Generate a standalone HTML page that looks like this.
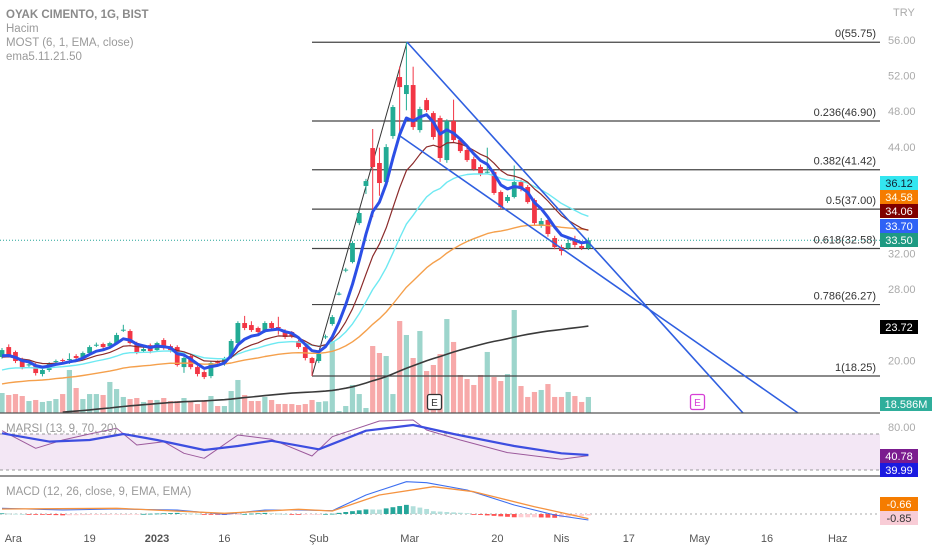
<!DOCTYPE html>
<html><head><meta charset="utf-8">
<style>
html,body{margin:0;padding:0;background:#fff;}
svg{display:block;font-family:"Liberation Sans",sans-serif;}
</style></head>
<body>
<svg id="chart" width="932" height="550" viewBox="0 0 932 550" xmlns="http://www.w3.org/2000/svg">
<rect x="0" y="0" width="932" height="550" fill="#ffffff"/>
<g id="rsi-bg">
<rect x="0" y="434" width="880" height="36" fill="#f3e7f5"/>
<line x1="0" y1="434" x2="880" y2="434" stroke="#9a9a9a" stroke-dasharray="3,3"/>
<line x1="0" y1="470" x2="880" y2="470" stroke="#9a9a9a" stroke-dasharray="3,3"/>
</g>
<line x1="0" y1="514" x2="880" y2="514" stroke="#aaa" stroke-dasharray="2,3"/>
<g id="vol"></g>
<g id="fib"></g>
<g id="candles"></g>
<g id="lines"></g>
<g id="draw"></g>
<g id="ind"></g>
<line x1="0" y1="413" x2="880" y2="413" stroke="#555" stroke-width="1.2"/>
<line x1="0" y1="476" x2="880" y2="476" stroke="#555" stroke-width="1.2"/>
<line x1="0" y1="240.3" x2="880" y2="240.3" stroke="#26a69a" stroke-dasharray="1,2"/>
<g><rect x="427.5" y="394.5" width="14" height="15" rx="2" fill="#fff" stroke="#333" stroke-width="1.3"/><text x="434.5" y="406" font-size="10" text-anchor="middle" fill="#333">E</text></g>
<g><rect x="690.5" y="394.5" width="14" height="15" rx="2" fill="#fff" stroke="#d63fd6" stroke-width="1.3"/><text x="697.5" y="406" font-size="10" text-anchor="middle" fill="#d63fd6">E</text></g>
<g font-size="11.5" fill="#9a9a9a">
<text x="6" y="18" font-weight="bold" fill="#8a8a8a">OYAK CIMENTO, 1G, BIST</text>
<text x="6" y="32">Hacim</text>
<text x="6" y="46">MOST (6, 1, EMA, close)</text>
<text x="6" y="60">ema5.11.21.50</text>
<text x="6" y="432">MARSI (13, 9, 70, 20)</text>
<text x="6" y="495">MACD (12, 26, close, 9, EMA, EMA)</text>
</g>
<g id="axis" font-size="11"></g>
</svg>
<script>
const opens=[20.38,21.50,20.94,20.04,19.48,19.48,18.47,18.92,19.81,20.04,20.12,20.49,20.38,20.83,21.72,21.84,21.61,21.95,23.41,23.30,21.95,21.05,21.72,21.16,22.29,21.61,21.50,19.25,20.49,19.25,18.69,18.24,19.81,19.59,20.38,21.95,24.20,23.97,23.64,23.30,24.20,23.75,23.30,23.19,22.18,21.50,20.27,19.93,22.63,24.09,27.45,30.15,31.05,35.43,39.60,43.86,42.18,40.04,45.21,51.84,49.93,50.94,45.88,49.25,47.79,47.23,42.51,46.89,44.76,43.64,42.62,41.73,41.16,41.16,38.92,37.91,38.36,40.04,39.48,38.02,35.10,35.77,33.75,32.74,32.63,33.64,32.85,32.63];
const closes=[21.16,20.60,19.93,19.25,19.55,18.58,18.92,19.59,19.93,19.93,20.16,20.27,20.83,21.50,21.76,21.50,21.95,22.85,23.45,21.95,20.94,21.28,21.05,21.95,21.39,21.16,19.48,20.27,19.25,18.47,18.13,19.70,19.70,20.27,22.18,24.20,23.64,23.41,23.19,24.20,23.64,23.70,22.63,22.74,21.50,20.27,19.70,20.72,22.70,24.87,27.50,30.20,33.19,36.56,40.15,41.73,39.93,43.97,48.47,50.71,50.94,46.22,48.24,48.13,45.10,42.74,46.89,44.76,43.52,42.51,41.50,40.94,41.20,38.81,37.23,38.36,40.04,39.25,37.79,35.43,35.66,34.20,32.74,32.29,33.19,32.97,32.63,33.50];
const highs=[21.4,21.8,21.1,20.3,19.8,19.7,19.1,19.8,20.1,20.2,20.8,20.7,21.0,21.7,22.0,22.0,22.1,23.1,24.0,23.5,22.1,21.5,21.9,22.1,22.5,21.8,21.7,20.5,20.7,19.4,18.9,19.9,20.0,20.4,22.4,24.4,25.0,24.4,23.8,24.4,24.4,24.9,23.5,23.3,22.3,21.7,20.4,20.9,22.9,25.1,27.7,30.4,33.4,36.8,40.4,46.0,43.9,44.3,48.7,53.0,55.75,53.0,48.5,49.5,48.0,47.5,47.1,49.3,45.0,43.9,42.9,42.0,43.9,41.4,39.1,38.6,41.9,40.3,39.7,38.2,36.0,36.0,34.0,33.0,33.6,34.0,33.2,33.8];
const lows=[20.2,20.4,19.7,19.0,19.2,18.3,18.2,18.7,19.6,19.8,19.6,20.0,20.2,20.6,21.5,21.3,21.4,21.8,23.2,21.8,20.7,20.9,20.8,21.0,21.2,20.9,19.3,18.6,19.0,18.2,17.9,18.0,19.5,19.4,20.2,21.8,23.4,23.2,22.9,23.1,23.4,22.9,22.4,22.5,21.3,20.0,18.25,19.7,22.4,23.9,27.3,29.9,30.9,35.2,38.7,36.1,38.5,39.8,44.9,45.1,48.1,45.9,45.6,47.9,44.8,42.3,42.2,44.5,43.3,42.3,41.3,40.7,40.9,38.6,37.0,37.7,38.2,39.0,37.6,35.2,34.9,33.9,32.5,31.8,32.4,32.7,32.4,32.4];
const volumes=[23.2,20.9,22.0,19.7,13.9,15.1,12.8,13.9,16.2,22.0,49.9,29.0,16.2,22.0,22.0,20.9,36.0,27.8,18.6,16.2,17.4,12.8,15.1,15.1,17.4,13.9,13.9,17.4,13.9,10.4,15.1,19.7,8.1,8.1,25.5,38.3,20.9,13.9,13.9,18.6,15.1,10.4,10.4,10.4,9.3,10.4,15.1,12.8,13.6,83.5,2.3,8.1,32.5,22.0,5.8,77.7,69.6,66.1,22.0,106.7,90.5,63.8,95.1,48.7,55.7,68.4,109.0,82.4,44.1,39.4,32.5,44.1,70.8,41.8,37.1,45.2,119.5,31.3,18.6,24.4,26.7,33.6,18.6,18.6,24.4,19.7,12.8,18.6];
const emaPeriods=[5,11,21,50,200];
const emaSeeds=[20.2,20.2,18.7,17.2,13.6];
const fibRatios=[0,0.236,0.382,0.5,0.618,0.786,1];
const fibHigh=55.75, fibLow=18.25;
const rsiIdx=[0,5,9,13,17,20,24,27,30,35,40,46,49,56,61,63,68,75,83,87];
const rsiVals=[74.6,50.1,61.7,70,77.9,54.7,59.3,43.2,36.2,68.6,62.6,39.4,66.3,88,89.4,75.6,61.7,44.1,34.8,39.99];
const rsiMaIdx=[0,7,13,18,23,30,35,40,47,54,61,67,76,83,87];
const rsiMaVals=[71,59.4,61.7,70,61.7,47.8,53.3,60.6,48.8,74.6,82.5,70,53.3,43.2,40.78];
const macdIdx=[0,9,17,26,33,39,44,49,54,60,63,69,76,82,87];
const macdVals=[0.81,0.57,0.71,0.57,-0.04,0.57,0.57,0.47,2.71,4.61,4.47,3.43,1.29,-0.14,-0.85];
const sigIdx=[0,17,33,44,49,56,64,70,79,87];
const sigVals=[0.71,0.81,0.1,0.67,0.43,2.71,3.9,3.19,1.04,-0.66];
const priceTicks=[56,52,48,44,32,28,20];
const timeLabels=["Ara","19","2023","16","Şub","Mar","20","Nis","17","May","16","Haz"];
const timeBars=[0.4,13,23,33,47,60.5,73.5,83,93,103.5,113.5,124];

const NS="http://www.w3.org/2000/svg";
const xB=i=>2+6.74*i;
const yP=p=>40+(56-p)*8.9;
const yV=v=>413-v/1.16;
const yR=v=>434+(70-v)*0.72;
const yM=v=>514-v*7;
function mk(tag,attrs,parent){const e=document.createElementNS(NS,tag);for(const k in attrs)e.setAttribute(k,attrs[k]);parent.appendChild(e);return e;}
const G=id=>document.getElementById(id);
const UP="#22ab94",DN="#f23645";

// volume
const gv=G('vol');
volumes.forEach((v,i)=>{const up=closes[i]>=opens[i];
 const r=mk('rect',{x:xB(i)-2.6,y:yV(v),width:5.2,height:413-yV(v),fill:up?"#9dd5cc":"#f7a9a9"},gv);
 
 });

// fib
const gf=G('fib');
mk('line',{x1:312,y1:yP(fibLow),x2:407,y2:yP(fibHigh),stroke:"#333","stroke-width":1},gf);
fibRatios.forEach(r=>{const p=fibHigh-(fibHigh-fibLow)*r;const y=yP(p);
 const l=mk('line',{x1:312,y1:y,x2:880,y2:y,stroke:"#444","stroke-width":1.2},gf);
 
 
 const t=mk('text',{x:876,y:y-5,"font-size":11,"text-anchor":"end",fill:"#333"},gf);
 t.textContent=r+"("+p.toFixed(2)+")";
 
 });

// candles
const gc=G('candles');
opens.forEach((o,i)=>{const c=closes[i];const up=c>=o;const col=up?UP:DN;const x=xB(i);
 const w=mk('line',{x1:x,y1:yP(highs[i]),x2:x,y2:yP(lows[i]),stroke:col,"stroke-width":1},gc);
 
 
 const top=yP(Math.max(o,c)),bot=yP(Math.min(o,c));
 const b=mk('rect',{x:x-2.4,y:top,width:4.8,height:Math.max(1,bot-top),fill:col},gc);
 
 });

// EMAs
function ema(period,seed){const a=2/(period+1);let e=seed;return closes.map(c=>{e=e+a*(c-e);return e;});}
const emaColors=["#2c4fe6","#8b2a2a","#6ee9f2","#f5a04c","#3a3a3a"];
const emaWidths=[3,1.2,1.4,1.4,1.6];
const emaNames=["ema5-line","ema11-line","ema21-line","ema50-line","ema200-line"];
const gl=G('lines');
[4,3,2,1,0].forEach(k=>{const vals=ema(emaPeriods[k],emaSeeds[k]);
 let start=k===4?9:0;
 const pts=vals.map((v,i)=>[xB(i),yP(v)]).filter((p,i)=>i>=start&&p[1]<=413).map(p=>p[0].toFixed(1)+","+p[1].toFixed(1)).join(" ");
 const pl=mk('polyline',{points:pts,fill:"none",stroke:emaColors[k],"stroke-width":emaWidths[k],"stroke-linejoin":"round"},gl);
 
 });

// drawings (falling wedge)
const gd=G('draw');
const d1=mk('line',{x1:407,y1:42,x2:743,y2:413,stroke:"#2f5fe0","stroke-width":1.6},gd);


const d2=mk('line',{x1:400,y1:136,x2:798,y2:413,stroke:"#2f5fe0","stroke-width":1.6},gd);



// indicators
function interp(idx,vals,i){for(let k=0;k<idx.length-1;k++){if(i>=idx[k]&&i<=idx[k+1]){const t=(i-idx[k])/(idx[k+1]-idx[k]);return vals[k]+t*(vals[k+1]-vals[k]);}}return vals[vals.length-1];}
const gi=G('ind');
const nBars=closes.length;
let prevH=0;
for(let i=0;i<nBars;i++){const h=interp(macdIdx,macdVals,i)-interp(sigIdx,sigVals,i);
 let col;if(h>=0)col=h>=prevH?"#26a69a":"#b2dfdb";else col=h<prevH?"#ff5252":"#ffcdd2";prevH=h;
 const y0=yM(0),y1=yM(h);
 const r=mk('rect',{x:xB(i)-2.4,y:Math.min(y0,y1),width:4.8,height:Math.max(0.8,Math.abs(y1-y0)),fill:col},gi);
 
 }
function line(idx,vals,yf,col,w,name){const pts=idx.map((i,k)=>xB(i).toFixed(1)+","+yf(vals[k]).toFixed(1)).join(" ");
 const p=mk('polyline',{points:pts,fill:"none",stroke:col,"stroke-width":w,"stroke-linejoin":"round"},gi);
 
 }
line(rsiIdx,rsiVals,yR,"#9c5a9c",1,"rsi-line");
line(rsiMaIdx,rsiMaVals,yR,"#3d4ee0",2.2,"rsi-ma-line");
line(macdIdx,macdVals,yM,"#3d6ff0",1.1,"macd-line");
line(sigIdx,sigVals,yM,"#f59340",1.3,"signal-line");

// axes
const ga=G('axis');
const tr=mk('text',{x:893,y:16,fill:"#aaa"},ga);tr.textContent="TRY";


priceTicks.forEach(p=>{const t=mk('text',{x:888,y:yP(p)+4,fill:"#aaa"},ga);t.textContent=p.toFixed(2);
 
 });
const t80=mk('text',{x:888,y:431,fill:"#aaa"},ga);t80.textContent="80.00";


timeLabels.forEach((s,k)=>{const t=mk('text',{x:xB(timeBars[k]),y:542,fill:"#555","text-anchor":k===0?"start":"middle","font-weight":s==="2023"?"bold":"normal"},ga);
 t.textContent=s;
 
 });
const tags=[["36.12",183,"#33e6f0","#123"],["34.58",197,"#f57c00","#ffe"],["34.06",211,"#7f0000","#fff"],["33.70",226,"#2f62f5","#fff"],["33.50",240,"#1e9a82","#fff"],["23.72",327,"#000","#fff"],["18.586M",404,"#2fae9b","#fff"],["40.78",456,"#7b1c8f","#fff"],["39.99",470,"#1a1ae0","#fff"],["-0.66",504,"#f57c00","#fff"],["-0.85",518,"#f8ccd6","#333"]];
tags.forEach(a=>{const w=a[0].length>5?52:38;
 const r=mk('rect',{x:880,y:a[1]-7,width:w,height:14,fill:a[2]},ga);
 
 
 const t=mk('text',{x:880+w/2,y:a[1]+4,fill:a[3],"text-anchor":"middle"},ga);t.textContent=a[0];
 
 });
</script>
</body></html>
